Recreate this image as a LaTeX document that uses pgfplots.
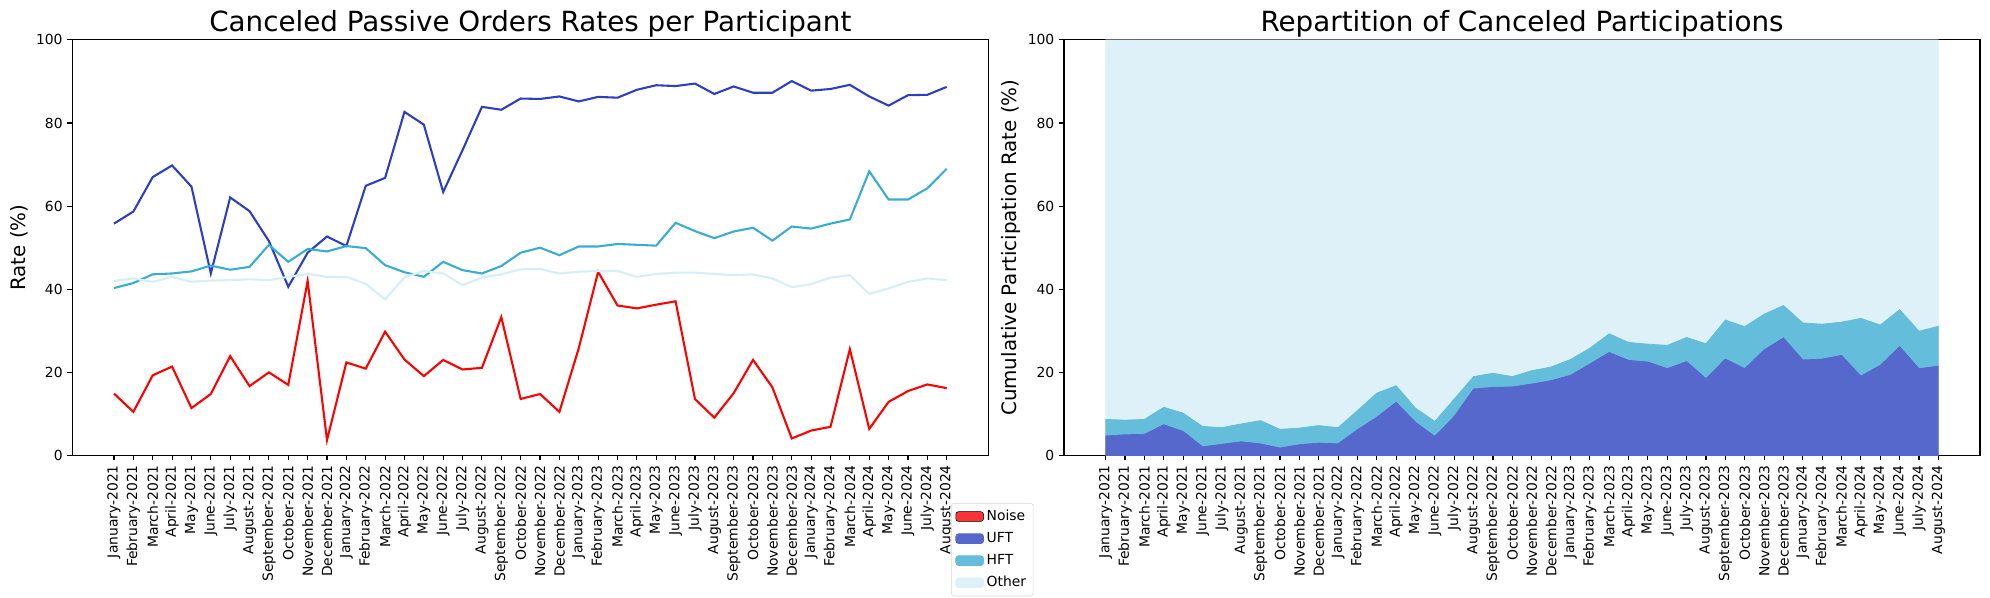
\documentclass[border=0pt]{standalone}
\usepackage{fontspec}
\setmainfont{DejaVu Sans}
\usepackage{pgfplots}
\usepackage{pgfplotstable}
\pgfplotsset{compat=1.18}

\definecolor{noiseline}{RGB}{255,0,0}
\definecolor{uftline}{RGB}{44,62,196}
\definecolor{hftline}{RGB}{57,172,214}
\definecolor{otherline}{RGB}{212,239,248}
\definecolor{noisepatch}{RGB}{255,51,51}
\definecolor{uftarea}{RGB}{86,104,204}
\definecolor{hftarea}{RGB}{99,189,219}
\definecolor{otherarea}{RGB}{223,241,248}

% cancel rates per participant type (%)
\pgfplotstableread{
i noise uft hft other
0 14.9 55.8 40.3 42.0
1 10.5 58.7 41.5 42.6
2 19.3 67.0 43.6 41.8
3 21.4 69.8 43.8 43.0
4 11.4 64.7 44.3 41.8
5 14.8 43.8 45.7 42.1
6 23.9 62.1 44.7 42.2
7 16.7 58.8 45.4 42.4
8 20.0 51.6 50.7 42.2
9 17.0 40.6 46.6 43.0
10 42.0 48.8 49.7 43.7
11 3.7 52.7 49.1 43.0
12 22.4 50.4 50.4 43.0
13 20.9 64.9 49.9 41.3
14 29.8 66.8 45.8 37.6
15 23.1 82.7 44.1 42.9
16 19.1 79.6 43.0 44.4
17 23.0 63.4 46.6 43.8
18 20.7 73.5 44.6 41.0
19 21.1 83.9 43.8 42.8
20 33.3 83.2 45.6 43.6
21 13.6 85.9 48.8 44.8
22 14.8 85.8 50.0 44.9
23 10.5 86.4 48.2 43.8
24 25.8 85.2 50.3 44.2
25 44.2 86.3 50.3 44.4
26 36.1 86.1 50.9 44.4
27 35.4 88.0 50.7 43.0
28 36.3 89.1 50.5 43.7
29 37.1 88.9 56.0 44.0
30 13.6 89.5 54.0 44.0
31 9.1 87.0 52.3 43.7
32 15.0 88.8 53.9 43.4
33 23.0 87.3 54.8 43.6
34 16.4 87.3 51.7 42.6
35 4.1 90.1 55.1 40.5
36 6.0 87.8 54.6 41.2
37 6.9 88.2 55.8 42.8
38 25.6 89.2 56.8 43.4
39 6.4 86.4 68.4 38.9
40 12.9 84.2 61.6 40.2
41 15.5 86.7 61.6 41.8
42 17.1 86.8 64.3 42.6
43 16.2 88.7 69.0 42.2
}\rates

% share of canceled participations (%), stacked
\pgfplotstableread{
i uft hft other
0 4.7 4.0 91.3
1 5.0 3.5 91.5
2 5.1 3.6 91.3
3 7.4 4.2 88.4
4 5.8 4.4 89.8
5 2.1 4.9 93.0
6 2.7 4.0 93.3
7 3.3 4.3 92.4
8 2.8 5.6 91.6
9 1.8 4.5 93.7
10 2.6 4.0 93.4
11 3.0 4.2 92.8
12 2.8 3.9 93.3
13 6.2 4.6 89.2
14 9.2 5.8 85.0
15 12.8 4.0 83.2
16 8.0 3.4 88.6
17 4.6 3.6 91.8
18 9.4 4.2 86.4
19 16.0 3.0 81.0
20 16.4 3.4 80.2
21 16.5 2.5 81.0
22 17.2 3.2 79.6
23 18.0 3.3 78.7
24 19.3 3.8 76.9
25 22.0 3.8 74.2
26 24.8 4.5 70.7
27 22.9 4.3 72.8
28 22.5 4.3 73.2
29 20.9 5.6 73.5
30 22.6 5.8 71.6
31 18.5 8.4 73.1
32 23.2 9.4 67.4
33 20.9 10.1 69.0
34 25.4 8.6 66.0
35 28.3 7.8 63.9
36 23.0 8.9 68.1
37 23.2 8.4 68.4
38 24.1 8.0 67.9
39 19.1 13.9 67.0
40 21.7 9.7 68.6
41 26.2 8.9 64.9
42 20.9 9.0 70.1
43 21.5 9.6 68.9
}\shares

\pgfplotsset{
  monthaxis/.style={
    width=659.5pt, height=299.2pt, scale only axis,
    xmin=-2.15, xmax=45.15, ymin=0, ymax=100,
    xtick={0,...,43},
    xticklabels={January-2021,February-2021,March-2021,April-2021,May-2021,June-2021,July-2021,August-2021,September-2021,October-2021,November-2021,December-2021,
      January-2022,February-2022,March-2022,April-2022,May-2022,June-2022,July-2022,August-2022,September-2022,October-2022,November-2022,December-2022,
      January-2023,February-2023,March-2023,April-2023,May-2023,June-2023,July-2023,August-2023,September-2023,October-2023,November-2023,December-2023,
      January-2024,February-2024,March-2024,April-2024,May-2024,June-2024,July-2024,August-2024},
    xticklabel style={rotate=90, anchor=east, font=\fontsize{10}{12}\selectfont},
    ytick={0,20,...,100},
    yticklabel style={font=\fontsize{10}{12}\selectfont},
    /pgf/number format/assume math mode=true,
    tick pos=left, tick align=outside, major tick length=3.5pt,
    every tick/.style={black, line width=0.8pt},
    axis line style={line width=0.8pt},
    title style={at={(0.5,1)}, anchor=base, font=\fontsize{20}{24}\selectfont},
    ylabel style={at={(axis description cs:-0.0582,0.5)}, anchor=center, font=\fontsize{14.3}{17}\selectfont},
  },
}

\begin{document}
\begin{tikzpicture}
\path[use as bounding box] (0,0) rectangle (1432.8pt,430.56pt);

\begin{axis}[monthaxis,
  at={(52.1pt,102.6pt)}, anchor=south west,
  title={Canceled Passive Orders Rates per Participant},
  ylabel={Rate (\%)},
]
  \addplot[noiseline, line width=1.5pt] table[x=i, y=noise] {\rates};
  \addplot[uftline, line width=1.5pt] table[x=i, y=uft] {\rates};
  \addplot[hftline, line width=1.5pt] table[x=i, y=hft] {\rates};
  \addplot[otherline, line width=1.5pt] table[x=i, y=other] {\rates};
\end{axis}

\begin{axis}[monthaxis,
  at={(766.1pt,102.6pt)}, anchor=south west,
  title={Repartition of Canceled Participations},
  ylabel={Cumulative Participation Rate (\%)},
  stack plots=y,
  legend image code/.code={\fill[#1] (0pt,-3.5pt) rectangle (20pt,3.5pt);},
  legend cell align=left,
  legend style={at={(-0.1234,-0.1143)}, anchor=north west, draw=black!15,
    rounded corners=2pt, fill=white, font=\fontsize{10}{12}\selectfont,
    inner xsep=3pt, inner ysep=3pt, row sep=3pt},
]
  \addlegendimage{fill=noisepatch}
  \addlegendentry{Noise}
  \addplot[fill=uftarea, draw=uftarea, line width=0.5pt] table[x=i, y=uft] {\shares} \closedcycle;
  \addlegendentry{UFT}
  \addplot[fill=hftarea, draw=hftarea, line width=0.5pt] table[x=i, y=hft] {\shares} \closedcycle;
  \addlegendentry{HFT}
  \addplot[fill=otherarea, draw=otherarea, line width=0.5pt] table[x=i, y=other] {\shares} \closedcycle;
  \addlegendentry{Other}
\end{axis}
\end{tikzpicture}
\end{document}
